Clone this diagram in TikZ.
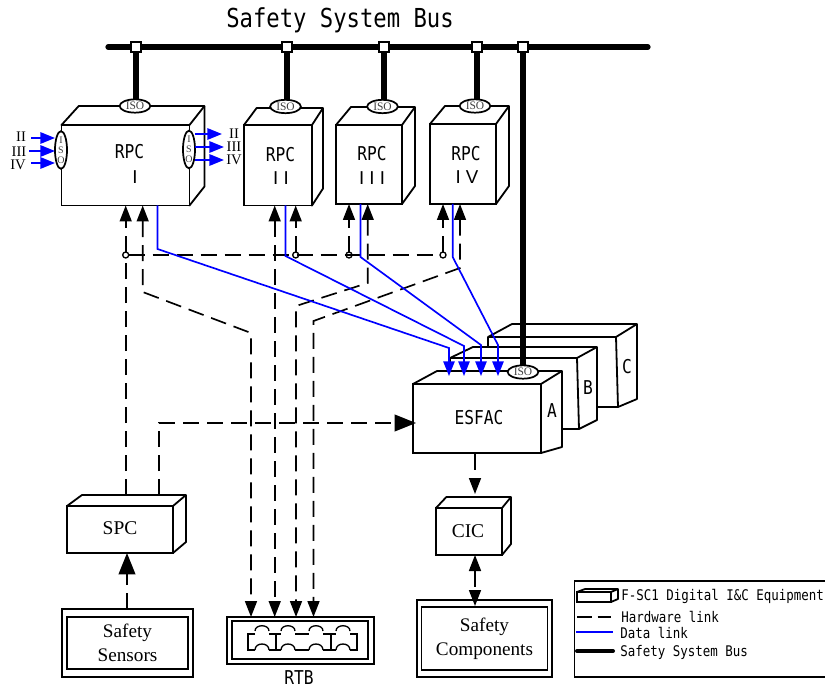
\documentclass[tikz,border=0pt]{standalone}
\usepackage{fontspec}
\setmainfont{Liberation Serif}
\newfontfamily\heifont[FakeStretch=0.85]{DejaVu Sans Mono}
\newfontfamily\barfont{Liberation Sans}
\usetikzlibrary{arrows.meta, shapes.geometric}
\definecolor{datablue}{RGB}{0, 0, 255}
\tikzset{
    facebox/.style={draw, rectangle, line width=1.35pt, fill=white, inner sep=0pt, outer sep=0pt},
    cubeline/.style={draw, line width=1.35pt, fill=white, line join=round},
    outerbox/.style={draw, rectangle, line width=1.3pt, inner sep=0pt, outer sep=0pt},
    innerbox/.style={outerbox, align=center, font=\fontsize{14.4}{18}\selectfont},
    isotop/.style={draw, ellipse, line width=1.3pt, fill=white, minimum width=23pt, minimum height=10pt, inner sep=0pt, outer sep=0pt, font=\fontsize{8.6}{8.6}\selectfont, text=black!75},
    isoside/.style={draw, ellipse, line width=1.3pt, fill=white, minimum width=9pt, minimum height=26pt, inner sep=0pt, outer sep=0pt, align=center, font=\fontsize{7.5}{7.5}\selectfont, text=black!75},
    portbox/.style={draw, rectangle, line width=1pt, fill=white, minimum size=7.5pt, inner sep=0pt, outer sep=0pt},
    junction/.style={draw, circle, line width=1pt, fill=white, minimum size=4.5pt, inner sep=0pt, outer sep=0pt},
    hwlink/.style={line width=1.25pt, dash pattern=on 12pt off 6pt},
    datalink/.style={line width=1.25pt, draw=datablue},
    busline/.style={line width=3.9pt},
    tip/.style={-{Triangle[length=12pt, width=9pt]}},
    bothtip/.style={{Triangle[length=12pt, width=9pt]}-{Triangle[length=12pt, width=9pt]}},
    bigtip/.style={-{Triangle[length=16pt, width=12.5pt]}},
    bluetip/.style={-{Triangle[length=11pt, width=8.5pt]}},
    sidetip/.style={line width=1.6pt, draw=datablue, -{Triangle[length=11pt, width=8.5pt]}},
    heilabel/.style={inner sep=0pt, font=\fontsize{14.3}{14.3}\heifont},
    barlabel/.style={inner sep=0pt, font=\fontsize{14}{14}\barfont},
    serlabel/.style={inner sep=0pt, font=\fontsize{14.6}{14.6}\selectfont},
    romlabel/.style={inner sep=0pt, font=\fontsize{11}{11}\selectfont},
    keylabel/.style={inner sep=0pt, anchor=west, font=\fontsize{11}{11}\heifont},
}
% name, left, top, right, bottom, depth x, depth y
\newcommand{\cubebox}[7]{
    \draw[cubeline] (#2,#3) -- (#2+1.15*#6,#3+#7) -- (#4+#6,#3+#7) -- (#4+#6,#5+#7) -- (#4,#5) -- cycle;
    \draw[line width=1.35pt] (#4,#3) -- (#4+#6,#3+#7);
    \node[facebox, minimum width={(#4-#2)*0.75pt}, minimum height={(#5-#3)*0.75pt}] (#1) at ({(#2+#4)/2},{(#3+#5)/2}) {};
}
\begin{document}
\begin{tikzpicture}[x=0.75pt, y=-0.75pt]
    \useasboundingbox (0,0) rectangle (825,688);

    % Bus
    \node[heilabel, font=\fontsize{19.6}{19.6}\heifont] (title) at (340,20) {Safety System Bus};
    \coordinate (busl) at (108,47);
    \coordinate (busr) at (648,47);
    \draw[busline, line cap=round] (busl) -- (busr);
    \node[portbox] (p1) at (136,47) {};
    \node[portbox] (p2) at (287,47) {};
    \node[portbox] (p3) at (384,47) {};
    \node[portbox] (p4) at (477,47) {};
    \node[portbox] (p5) at (523,47) {};

    % RPC cabinets
    \cubebox{rpcone}{61.5}{125}{189.5}{205.5}{15}{-19}
    \cubebox{rpctwo}{244}{125}{312}{205.5}{11}{-17}
    \cubebox{rpcthree}{336}{125}{402}{204}{13}{-18}
    \cubebox{rpcfour}{430}{124}{496}{204}{13}{-18}
    \node[heilabel] (t1a) at (129.5,152) {RPC};
    \node[barlabel] (t1b) at (135,177) {I};
    \node[heilabel] (t2a) at (280.5,155) {RPC};
    \node[barlabel] (t2b) at (281,178) {I I};
    \node[heilabel] (t3a) at (372,154) {RPC};
    \node[barlabel] (t3b) at (372,178) {I I I};
    \node[heilabel] (t4a) at (466,154) {RPC};
    \node[barlabel] (t4b) at (467,177) {I V};

    % ESFAC trains
    \draw[cubeline] (488,337) -- (512,324) -- (637,324) -- (637,399) -- (618,407) -- (488,407) -- cycle;
    \draw[line width=1.35pt] (488,337) -- (616,337) -- (618,407) (616,337) -- (637,324);
    \draw[cubeline] (450,358) -- (473,347) -- (597,347) -- (597,420) -- (579,429) -- (450,429) -- cycle;
    \draw[line width=1.35pt] (450,358) -- (577,358) -- (579,429) (577,358) -- (597,347);
    \draw[cubeline] (413,384) -- (437,371) -- (562,371) -- (562,447) -- (541,453) -- cycle;
    \draw[line width=1.35pt] (541,384) -- (562,371);
    \node[facebox, minimum width=96pt, minimum height=51.75pt] (esfac) at (477,418.5) {};
    \node[heilabel] (esfactext) at (479,418) {ESFAC};
    \node[heilabel] (tra) at (552,411) {A};
    \node[heilabel] (trb) at (588,388) {B};
    \node[heilabel] (trc) at (627,367) {C};

    % Lower boxes
    \cubebox{spc}{67}{506}{173}{553}{13}{-11}
    \node[serlabel] (spctext) at (120,528) {SPC};
    \cubebox{cic}{436}{508}{502}{555}{9}{-11}
    \node[serlabel] (cictext) at (468,531) {CIC};
    \node[outerbox, minimum width=98.25pt, minimum height=51pt] (sensors) at (127.5,643) {};
    \node[innerbox, minimum width=90.75pt, minimum height=39pt] (sensorsin) at (127.5,643) {Safety\\Sensors};
    \node[outerbox, minimum width=101.25pt, minimum height=57.75pt] (comps) at (484.5,638.5) {};
    \node[innerbox, minimum width=94.5pt, minimum height=47.25pt] (compsin) at (484.5,638.5) {Safety\\Components};

    % RTB
    \node[outerbox, minimum width=110.25pt, minimum height=35.25pt] (rtb) at (300.5,640.5) {};
    \node[outerbox, minimum width=102pt, minimum height=28.5pt] (rtbin) at (300,640) {};
    \foreach \cx in {262,288,316,343} {
        \draw[line width=1pt] (\cx-7,631) .. controls (\cx-7,624) and (\cx+7,624) .. (\cx+7,631);
        \draw[line width=1pt] (\cx-7,650) .. controls (\cx-7,642) and (\cx+7,642) .. (\cx+7,650);
    }
    \draw[line width=1pt] (255,634) -- (248,634) -- (248,650) -- (255,650);
    \draw[line width=1pt] (350,634) -- (357,634) -- (357,650) -- (350,650);
    \draw[line width=1pt] (269,634) -- (281,634) (295,634) -- (309,634) (323,634) -- (336,634);
    \draw[line width=1pt] (269,650) -- (281,650) (295,650) -- (309,650) (323,650) -- (336,650);
    \draw[line width=1pt] (276,634) -- (276,650) (331,634) -- (331,650);
    \node[heilabel] (rtbtext) at (299,678) {RTB};

    % ISO
    \node[isotop] (iso1) at (135,106) {ISO};
    \node[isotop] (iso2) at (285.5,106.5) {ISO};
    \node[isotop] (iso3) at (382.5,106.5) {ISO};
    \node[isotop] (iso4) at (475,106) {ISO};
    \node[isotop] (iso5) at (523,372) {ISO};
    \node[isoside] (isol) at (61,150) {I\\S\\O};
    \node[isoside] (isor) at (189,149.5) {I\\S\\O};
    \draw[busline] (p1) -- (p1 |- iso1.north);
    \draw[busline] (p2) -- (p2 |- iso2.north);
    \draw[busline] (p3) -- (p3 |- iso3.north);
    \draw[busline] (p4) -- (p4 |- iso4.north);
    \draw[line width=4.2pt] (p5) -- (p5 |- iso5.north);

    % Side links of RPC I
    \node[romlabel] (inII) at (21,137) {II};
    \node[romlabel] (inIII) at (19,152) {III};
    \node[romlabel] (inIV) at (18,165) {IV};
    \node[romlabel] (outII) at (234,134) {II};
    \node[romlabel] (outIII) at (234,147) {III};
    \node[romlabel] (outIV) at (234,160) {IV};
    \coordinate (li2) at (31,138);
    \coordinate (li3) at (29,151);
    \coordinate (li4) at (31,163);
    \draw[sidetip] (li2) -- (li2 -| isol.west);
    \draw[sidetip] (li3) -- (li3 -| isol.west);
    \draw[sidetip] (li4) -- (li4 -| isol.west);
    \coordinate (ro2) at (222,134);
    \coordinate (ro3) at (224,147);
    \coordinate (ro4) at (224,160);
    \draw[sidetip] (ro2 -| isor.east) -- (ro2);
    \draw[sidetip] (ro3 -| isor.east) -- (ro3);
    \draw[sidetip] (ro4 -| isor.east) -- (ro4);

    % Hardware links
    \node[junction] (j1) at (125.7,255) {};
    \node[junction] (j2) at (295.7,255) {};
    \node[junction] (j3) at (349,255) {};
    \node[junction] (j4) at (443,255) {};
    \draw[hwlink] (j1) -- (j4);
    \draw[hwlink, tip] (j1) -- (j1 |- rpcone.south);
    \draw[hwlink, tip] (j2) -- (j2 |- rpctwo.south);
    \draw[hwlink, tip] (j3) -- (j3 |- rpcthree.south);
    \draw[hwlink, tip] (j4) -- (j4 |- rpcfour.south);
    \coordinate (s1) at (125.7,495);
    \coordinate (s2) at (159,495);
    \coordinate (h1) at (159,423);
    \coordinate (h2) at (416,423);
    \draw[hwlink] (s1) -- (j1);
    \draw[hwlink, bigtip] (s2) -- (h1) -- (h2);
    % to RTB
    \coordinate (a1) at (142.7,205.5);
    \coordinate (a2) at (142.7,292);
    \coordinate (a3) at (251,333);
    \coordinate (b1) at (274.7,205.5);
    \coordinate (c1) at (367.7,204);
    \coordinate (c2) at (367.7,283);
    \coordinate (c3) at (296,306);
    \coordinate (d1) at (460,204);
    \coordinate (d2) at (460,268);
    \coordinate (d3) at (313.5,321);
    \draw[hwlink, bothtip] (a1) -- (a2) -- (a3) -- (a3 |- rtb.north);
    \draw[hwlink, bothtip] (b1) -- (b1 |- rtb.north);
    \draw[hwlink, bothtip] (c1) -- (c2) -- (c3) -- (c3 |- rtb.north);
    \draw[hwlink, bothtip] (d1) -- (d2) -- (d3) -- (d3 |- rtb.north);
    % lower stage
    \coordinate (e1) at (475,454);
    \coordinate (e2) at (475,494);
    \coordinate (f1) at (475,606);
    \coordinate (g1) at (127,609);
    \draw[hwlink, tip] (e1) -- (e2);
    \draw[hwlink, bothtip] (e1 |- cic.south) -- (f1);
    \draw[hwlink, bigtip] (g1) -- (g1 |- spc.south);

    % Data links
    \coordinate (k1) at (157.5,249);
    \coordinate (k2) at (449,348);
    \coordinate (k3) at (449,376);
    \coordinate (l1) at (285.5,256);
    \coordinate (l2) at (464,346);
    \coordinate (l3) at (464,376);
    \coordinate (m1) at (360.5,257);
    \coordinate (m2) at (481,345);
    \coordinate (m3) at (481,376);
    \coordinate (n1) at (452.7,257);
    \coordinate (n2) at (498,345);
    \coordinate (n3) at (498,376);
    \draw[datalink, bluetip] (k1 |- rpcone.south) -- (k1) -- (k2) -- (k3);
    \draw[datalink, bluetip] (l1 |- rpctwo.south) -- (l1) -- (l2) -- (l3);
    \draw[datalink, bluetip] (m1 |- rpcthree.south) -- (m1) -- (m2) -- (m3);
    \draw[datalink, bluetip] (n1 |- rpcfour.south) -- (n1) -- (n2) -- (n3);

    % Legend
    \draw[line width=1.3pt] (825,581) -- (574.5,581) -- (574.5,677) -- (825,677);
    \cubebox{keybox}{577}{592}{611}{602}{7}{-3}
    \coordinate (kh1) at (577,617);
    \coordinate (kh2) at (611,617);
    \coordinate (kd1) at (576,632);
    \coordinate (kd2) at (613,632);
    \coordinate (kb1) at (577,651);
    \coordinate (kb2) at (613,651);
    \draw[line width=1.25pt, dash pattern=on 11pt off 4.5pt] (kh1) -- (kh2);
    \draw[datalink] (kd1) -- (kd2);
    \draw[line width=3pt, line cap=round] (kb1) -- (kb2);
    \node[keylabel] (key1) at (621,596) {F-SC1 Digital I\&C Equipment};
    \node[keylabel] (key2) at (621,617) {Hardware link};
    \node[keylabel] (key3) at (620,633) {Data link};
    \node[keylabel] (key4) at (620,652) {Safety System Bus};
\end{tikzpicture}
\end{document}
